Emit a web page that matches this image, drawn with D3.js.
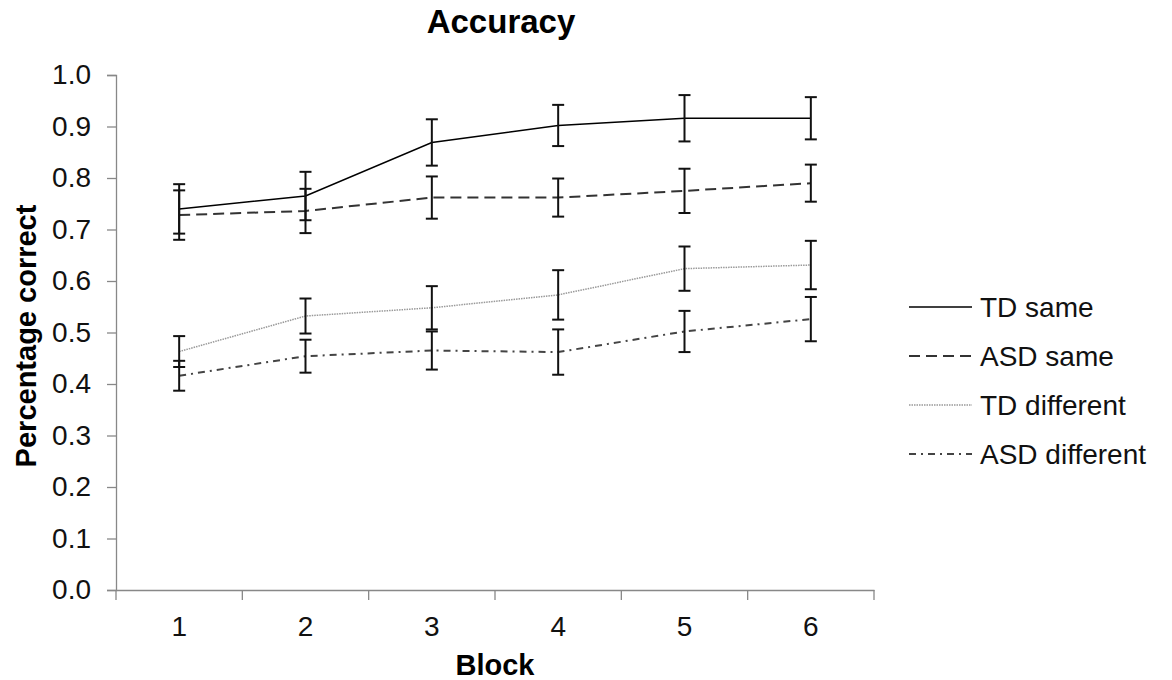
<!DOCTYPE html>
<html>
<head>
<meta charset="utf-8">
<script src="https://cdn.jsdelivr.net/npm/d3@7"></script>
<style>
  body { margin: 0; background: #fff; }
  svg { font-family: "Liberation Sans", Arial, sans-serif; }
</style>
</head>
<body>
<svg id="chart"></svg>
<script>
// blocks on the x axis
const blocks = [1, 2, 3, 4, 5, 6];
const yTicks = [0, 0.1, 0.2, 0.3, 0.4, 0.5, 0.6, 0.7, 0.8, 0.9, 1.0];

// mean accuracy per block
const tdSame = [0.740, 0.765, 0.869, 0.902, 0.916, 0.916];
const asdSame = [0.728, 0.736, 0.762, 0.762, 0.775, 0.790];
const tdDiff = [0.463, 0.532, 0.548, 0.573, 0.624, 0.631];
const asdDiff = [0.416, 0.454, 0.465, 0.462, 0.502, 0.526];

// error bar half widths
const tdSameErr = [0.048, 0.047, 0.045, 0.040, 0.045, 0.041];
const asdSameErr = [0.048, 0.043, 0.041, 0.037, 0.043, 0.036];
const tdDiffErr = [0.030, 0.034, 0.042, 0.048, 0.043, 0.047];
const asdDiffErr = [0.029, 0.032, 0.037, 0.044, 0.040, 0.043];

const seriesNames = ["TD same", "ASD same", "TD different", "ASD different"];

const W = 1172, H = 680;
const margin = {top: 75, right: 298, bottom: 90, left: 116};
const width = W - margin.left - margin.right,
      height = H - margin.top - margin.bottom;

const svg = d3.select("#chart")
  .attr("width", W)
  .attr("height", H);

const g = svg.append("g")
  .attr("transform", `translate(${margin.left}, ${margin.top})`);

const x = d3.scaleBand()
  .domain(blocks)
  .range([0, width]);

const y = d3.scaleLinear()
  .domain([0, 1])
  .range([height, 0]);

// line styles for each series
const styles = [
  {vals: tdSame, err: tdSameErr, stroke: "#000", width: 1.5, dash: null},
  {vals: asdSame, err: asdSameErr, stroke: "#333", width: 2, dash: "11,6"},
  {vals: tdDiff, err: tdDiffErr, stroke: "#999", width: 1.5, dash: "1.5,1"},
  {vals: asdDiff, err: asdDiffErr, stroke: "#444", width: 2, dash: "7,5,2,5"}
];

// y axis
const yAxis = g.append("g")
  .call(d3.axisLeft(y).tickValues(yTicks).tickFormat(d3.format(".1f")).tickSize(9).tickPadding(16));
yAxis.select(".domain").attr("stroke", "#888").attr("stroke-width", 1.3);
yAxis.selectAll(".tick line").attr("stroke", "#888").attr("stroke-width", 1.3);
yAxis.selectAll("text").style("font-size", "28px").attr("fill", "#111");

// x axis, ticks between the blocks
const xAxis = g.append("g")
  .attr("transform", `translate(0, ${height})`)
  .call(d3.axisBottom(x).tickSize(0).tickPadding(26));
xAxis.select(".domain").attr("stroke", "#888").attr("stroke-width", 1.3);
xAxis.selectAll("text").style("font-size", "28px").attr("fill", "#111");

const bounds = [0].concat(blocks.map(b => x(b) + x.bandwidth()));
g.append("g").selectAll("line")
  .data(bounds)
  .join("line")
    .attr("x1", d => d)
    .attr("x2", d => d)
    .attr("y1", height)
    .attr("y2", height + 10)
    .attr("stroke", "#888")
    .attr("stroke-width", 1.3);

const cx = d => x(d) + x.bandwidth() / 2;

const line = d3.line()
  .x((d, i) => cx(blocks[i]))
  .y(d => y(d));

// series lines
g.selectAll(".series")
  .data(styles)
  .join("path")
    .attr("class", "series")
    .attr("fill", "none")
    .attr("stroke", d => d.stroke)
    .attr("stroke-width", d => d.width)
    .attr("stroke-dasharray", d => d.dash)
    .attr("d", d => line(d.vals));

// error bars
const errData = [];
styles.forEach(s => {
  s.vals.forEach((v, i) => errData.push({b: blocks[i], v: v, e: s.err[i]}));
});

const eb = g.append("g").attr("stroke", "#111").attr("stroke-width", 2);
eb.selectAll(".stem")
  .data(errData)
  .join("line")
    .attr("x1", d => cx(d.b))
    .attr("x2", d => cx(d.b))
    .attr("y1", d => y(d.v - d.e))
    .attr("y2", d => y(d.v + d.e));
eb.selectAll(".capTop")
  .data(errData)
  .join("line")
    .attr("x1", d => cx(d.b) - 6)
    .attr("x2", d => cx(d.b) + 6)
    .attr("y1", d => y(d.v + d.e))
    .attr("y2", d => y(d.v + d.e));
eb.selectAll(".capBot")
  .data(errData)
  .join("line")
    .attr("x1", d => cx(d.b) - 6)
    .attr("x2", d => cx(d.b) + 6)
    .attr("y1", d => y(d.v - d.e))
    .attr("y2", d => y(d.v - d.e));

// title and axis labels
svg.append("text")
  .attr("x", 501)
  .attr("y", 33)
  .attr("text-anchor", "middle")
  .style("font-size", "33px")
  .style("font-weight", "bold")
  .text("Accuracy");

svg.append("text")
  .attr("x", 495)
  .attr("y", 675)
  .attr("text-anchor", "middle")
  .style("font-size", "29px")
  .style("font-weight", "bold")
  .text("Block");

svg.append("text")
  .attr("transform", "translate(36, 336) rotate(-90)")
  .attr("text-anchor", "middle")
  .style("font-size", "29px")
  .style("font-weight", "bold")
  .text("Percentage correct");

// legend
const legend = svg.append("g")
  .attr("transform", "translate(909, 307)");
const items = legend.selectAll("g")
  .data(styles)
  .join("g")
    .attr("transform", (d, i) => `translate(0, ${i * 49})`);
items.append("line")
  .attr("x1", 0)
  .attr("x2", 63)
  .attr("stroke", d => d.stroke)
  .attr("stroke-width", d => d.width)
  .attr("stroke-dasharray", d => d.dash);
items.append("text")
  .attr("x", 71)
  .attr("dy", "0.35em")
  .style("font-size", "28px")
  .attr("fill", "#111")
  .text((d, i) => seriesNames[i]);
</script>
</body>
</html>
